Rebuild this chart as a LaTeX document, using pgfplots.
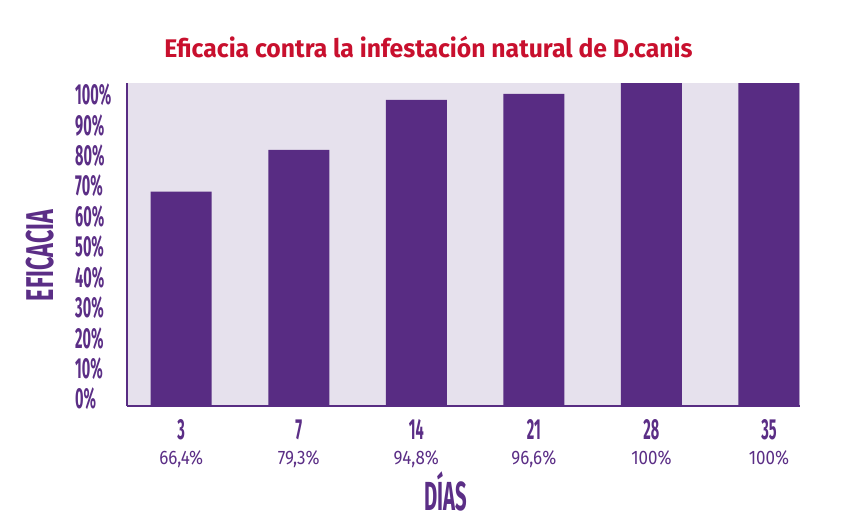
\documentclass[border=0pt]{standalone}
\usepackage{pgfplots}
\pgfplotsset{compat=1.18}
\usepackage{fontspec}
\setmainfont{Fira Sans}
\newfontfamily\condfont[FakeStretch=0.5]{Fira Sans}
\newfontfamily\labfont[FakeStretch=0.6]{Fira Sans}
\newfontfamily\titlefont[FakeStretch=0.97]{Fira Sans}
\newfontfamily\lightfont[FakeStretch=0.87]{Fira Sans}
\definecolor{barc}{HTML}{582C83}
\definecolor{bgc}{HTML}{E6E1ED}
\definecolor{txt}{HTML}{5B2E86}
\definecolor{titc}{HTML}{C8102E}
\begin{document}
\begin{tikzpicture}[x=1pt,y=1pt]
\path[use as bounding box] (-127,-125) rectangle (729,406);
\begin{axis}[
  at={(0,0)}, anchor=south west,
  width=673pt, height=323pt, scale only axis,
  ymin=0, ymax=100, xmin=-0.461, xmax=5.264,
  axis background/.style={fill=bgc},
  axis lines=left,
  axis line style={-, draw=barc, line width=2.5pt},
  ytick={2.2,11.6,21.0,30.4,39.8,49.2,58.7,68.1,77.5,86.9,96.3},
  yticklabels={0\%,10\%,20\%,30\%,40\%,50\%,60\%,70\%,80\%,90\%,100\%},
  xtick={0,1,2,3,4,5},
  xticklabels={3,7,14,21,28,35},
  major tick length=0,
  yticklabel style={font=\condfont\bfseries\fontsize{29}{29}\selectfont, text=txt, anchor=west, xshift=-55.3pt},
  xticklabel style={font=\condfont\bfseries\fontsize{29}{29}\selectfont, text=txt, anchor=base, yshift=-33.3pt},
  ybar, bar width=61pt,
  clip=false,
]
\addplot[fill=barc, draw=none] coordinates {(0,66.4) (1,79.3) (2,94.8) (3,96.6) (4,100) (5,100)};
\node[anchor=base, text=txt, font=\lightfont\fontsize{19.5}{19.5}\selectfont, yshift=-58.3pt] at (axis cs:0,0) {66,4\%};
\node[anchor=base, text=txt, font=\lightfont\fontsize{19.5}{19.5}\selectfont, yshift=-58.3pt] at (axis cs:1,0) {79,3\%};
\node[anchor=base, text=txt, font=\lightfont\fontsize{19.5}{19.5}\selectfont, yshift=-58.3pt] at (axis cs:2,0) {94,8\%};
\node[anchor=base, text=txt, font=\lightfont\fontsize{19.5}{19.5}\selectfont, yshift=-58.3pt] at (axis cs:3,0) {96,6\%};
\node[anchor=base, text=txt, font=\lightfont\fontsize{19.5}{19.5}\selectfont, yshift=-58.3pt] at (axis cs:4,0) {100\%};
\node[anchor=base, text=txt, font=\lightfont\fontsize{19.5}{19.5}\selectfont, yshift=-58.3pt] at (axis cs:5,0) {100\%};
\end{axis}
\node[anchor=base, text=titc, font=\titlefont\bfseries\fontsize{25.5}{25.5}\selectfont] at (301.5,348.7) {Eficacia contra la infestación natural de D.canis};
\node[rotate=90, anchor=center, text=txt, font=\labfont\bfseries\fontsize{38.7}{38.7}\selectfont] at (-87,150.5) {EFICACIA};
\node[anchor=base, text=txt, font=\condfont\bfseries\fontsize{40.6}{40.6}\selectfont] at (319,-104.7) {DÍAS};
\end{tikzpicture}
\end{document}
